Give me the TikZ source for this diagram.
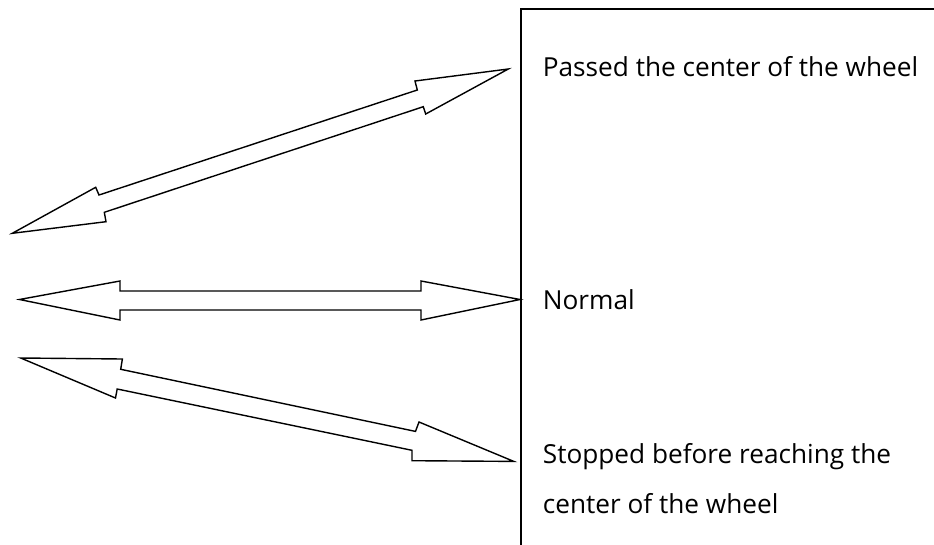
\documentclass[tikz,border=0pt]{standalone}
\usepackage{fontspec}
\setmainfont{Open Sans}
\begin{document}
\begin{tikzpicture}[x=1pt,y=-1pt,
  arrowshape/.style={draw=black,line width=1.4pt,line join=miter,fill=white},
  framebox/.style={draw=black,line width=2pt},
  label/.style={anchor=base west,inner sep=0pt,font=\fontsize{26.2}{30}\selectfont}]
\clip (0,0) rectangle (934,544);
\fill[white] (0,0) rectangle (934,544);
% frame (runs off the right and bottom edges)
\draw[framebox] (521,8.5) rectangle (960,570);
% top double arrow
\draw[arrowshape] (12.3,233.3) -- (95.7,187.3) -- (99,195) -- (417.3,90) -- (415,81)
  -- (508.3,69) -- (425.7,114) -- (423.3,106.7) -- (104.3,212.3) -- (106,221.7) -- cycle;
% middle double arrow
\draw[arrowshape] (19.5,299.5) -- (120,281) -- (120,291) -- (421,291) -- (421,281)
  -- (520,299.5) -- (421,320) -- (421,310) -- (120,310) -- (120,320) -- cycle;
% bottom double arrow
\draw[arrowshape] (20.7,358) -- (122.4,359) -- (120.7,369.3) -- (415.5,431.4) -- (419,422)
  -- (513.8,461.4) -- (412,460.7) -- (412,450.3) -- (117.2,389) -- (115.5,398) -- cycle;
% labels
\node[label] (passed) at (542.7,76.7) {Passed the center of the wheel};
\node[label] (normal) at (542.7,309) {Normal};
\node[label] (stopped) at (542.7,463) {Stopped before reaching the};
\node[label] (stopped2) at (542.7,513) {center of the wheel};
\end{tikzpicture}
\end{document}
